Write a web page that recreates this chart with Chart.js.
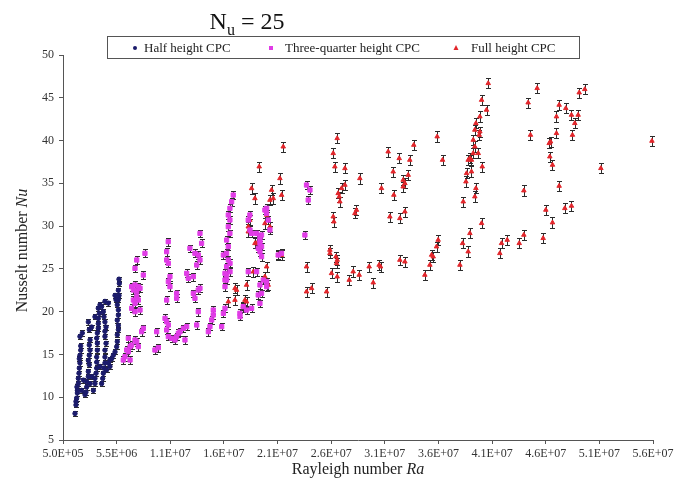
<!DOCTYPE html>
<html>
<head>
<meta charset="utf-8">
<script src="https://cdn.jsdelivr.net/npm/chart.js@4.4.1/dist/chart.umd.min.js"></script>
<style>
  html, body { margin: 0; padding: 0; background: #fff; }
  #wrap { width: 686px; height: 484px; }
</style>
</head>
<body>
<div id="wrap"><canvas id="chart"></canvas></div>
<script>
// Rayleigh numbers in millions, Nusselt numbers as read
const halfRa = [1.62, 1.71, 1.71, 1.77, 1.84, 1.84, 1.93, 1.93, 1.99, 2.02, 2.08, 2.02, 2.08, 2.15, 2.15, 2.30,
  2.55, 2.64, 2.71, 2.71, 2.86, 2.86, 2.95, 2.86, 2.95, 3.02, 2.95, 3.02, 2.95, 2.86,
  3.33, 3.48, 3.48, 3.58, 3.64, 3.64, 3.64, 3.70, 3.70, 3.64, 3.70, 3.79, 3.79, 3.79, 3.89, 3.79,
  4.10, 4.20, 4.26, 4.32, 4.41, 4.41, 4.41, 4.51, 4.41, 4.41, 4.51, 4.41, 4.32, 4.26, 4.10, 4.41,
  4.73, 4.88, 5.04, 5.19, 5.35, 5.50, 5.56, 5.56, 5.66, 5.66, 5.56, 5.66, 5.66, 5.56, 5.66, 5.72, 5.66, 5.75, 5.72, 5.35, 5.44,
  1.80, 2.24, 2.40, 3.02, 3.17, 3.95, 4.57, 4.88, 2.08, 3.17, 3.48, 3.95, 4.73];
const halfNu = [8.1, 9.1, 9.5, 9.9, 10.5, 10.8, 11.6, 12.2, 12.8, 13.4, 14.0, 14.5, 14.9, 15.5, 16.0, 17.5,
  10.3, 10.6, 11.2, 11.8, 12.4, 13.0, 13.8, 14.3, 14.9, 15.5, 16.1, 16.7, 17.9, 18.8,
  10.8, 11.6, 12.2, 12.8, 13.4, 14.1, 14.7, 15.5, 16.3, 16.9, 17.5, 18.05, 18.6, 19.2, 19.8, 20.4,
  11.6, 12.2, 12.8, 13.4, 14.0, 14.7, 15.5, 16.3, 17.1, 17.7, 18.2, 18.8, 19.4, 20.0, 20.6, 21.2,
  14.0, 14.4, 14.5, 14.9, 15.3, 15.9, 16.5, 17.3, 17.9, 18.4, 19.0, 19.6, 20.2, 20.8, 21.4, 21.9, 22.5, 23.3, 23.8, 21.9, 21.4,
  11.2, 10.8, 12.0, 11.6, 12.4, 13.6, 13.2, 13.6, 17.1, 18.2, 19.4, 20.8, 21.0];

const threeQuarterRa = [7.37, 8.14, 7.21, 7.99, 6.90, 7.21, 7.52, 7.68, 7.06, 7.37, 7.37, 7.06, 7.21, 7.52, 7.68, 6.90, 7.21,
  7.99, 7.83, 6.59, 7.21, 7.37, 6.90, 6.75, 6.43, 6.59, 6.28, 6.12, 6.75, 7.52, 9.23, 9.39, 9.07,
  10.01, 10.16, 10.32, 10.16, 10.32, 10.63, 11.09, 10.94, 11.25, 11.41, 11.72, 12.03, 11.87,
  10.16, 10.32, 10.47, 10.32, 10.47, 10.16, 11.09, 11.09, 12.03, 12.18, 12.65, 12.80, 12.65, 13.11, 13.27,
  12.96, 13.11, 13.27, 12.96, 13.11, 14.05, 14.20, 14.36, 14.51, 14.51, 15.29, 15.45, 15.60, 15.60, 15.76,
  15.45, 16.07, 16.07, 17.00, 10.31, 10.16, 12.33, 12.80, 13.27, 13.42,
  15.60, 15.75, 15.60, 15.75, 15.91, 15.75, 15.91, 15.75, 16.06, 15.91, 16.06, 15.91, 16.06, 16.22, 16.37,
  17.77, 17.93, 18.08, 18.55, 18.86, 18.86, 18.70, 17.77, 18.55, 18.86, 19.17, 19.48, 18.70, 18.86, 18.08, 17.61,
  19.48, 19.63, 23.20, 23.52, 23.36, 23.05, 19.32, 19.48, 19.79, 19.01, 18.86, 19.01, 18.86, 19.01, 17.92,
  20.56, 20.87, 19.48, 19.01, 17.30, 16.99];
const threeQuarterNu = [26.04, 26.82, 25.06, 24.28, 22.92, 23.12, 22.92, 22.73, 22.53, 22.34, 21.75, 21.36, 20.97, 21.36, 20.19, 20.39, 20.00,
  18.05, 17.66, 16.88, 16.69, 16.49, 16.10, 15.91, 15.52, 15.32, 14.74, 14.35, 14.35, 15.91, 17.66, 15.79, 15.52,
  19.22, 18.83, 18.44, 17.86, 17.08, 16.88, 17.08, 16.69, 17.47, 17.66, 18.05, 18.25, 16.69,
  26.04, 25.65, 24.09, 23.51, 22.92, 21.36, 22.14, 21.56, 24.48, 23.90, 24.09, 21.56, 22.14, 22.53, 22.73,
  25.45, 26.62, 26.04, 18.44, 20.00, 17.66, 18.25, 19.03, 19.61, 20.19, 18.25, 19.80, 20.39, 23.70, 24.28,
  26.62, 25.65, 24.67, 19.42, 28.18, 27.01, 27.40, 26.82, 29.15, 27.99,
  22.92, 23.70, 24.48, 25.26, 26.04, 26.82, 27.60, 28.37, 29.15, 29.93, 30.71, 31.30, 32.08, 32.85, 33.63,
  30.71, 29.54, 29.15, 29.15, 28.76, 27.99, 27.40, 24.67, 24.67, 23.12, 23.70, 22.92, 21.95, 20.97, 20.39, 20.19,
  32.08, 30.71, 34.80, 34.22, 33.05, 28.96, 31.88, 31.49, 29.55, 28.96, 28.38, 27.60, 27.01, 26.43, 31.30,
  26.62, 26.82, 23.51, 22.14, 20.59, 19.81];

const fullRa = [21.03, 18.79, 20.72, 18.08, 18.39, 19.94, 20.10, 19.79, 20.88, 19.48, 19.32, 19.79, 17.77, 18.55,
  20.57, 20.88, 19.48, 19.32, 19.63, 17.61, 17.61, 17.30, 16.53, 15.91, 23.20, 23.20, 23.67, 18.24,
  25.07, 25.38, 25.38, 25.94, 26.06, 26.00, 25.53, 26.06, 27.18, 27.55, 28.11, 29.04, 29.42, 29.97, 30.10,
  31.90, 32.37, 34.23, 34.70, 35.01, 35.32, 35.47, 34.86, 25.75, 25.69, 27.71, 27.86, 30.97, 31.90, 32.37,
  26.31, 26.25, 26.15, 26.47, 26.78, 25.84, 25.69, 26.06, 26.78, 28.17, 30.19, 31.34, 32.21, 32.37, 32.68,
  32.21, 31.28, 32.83, 31.84, 30.81, 33.20, 35.38, 35.88, 16.68, 16.53, 17.46, 17.92, 17.77, 18.39,
  40.14, 39.52, 39.98, 39.36, 38.99, 38.89, 39.36, 39.30, 38.74, 38.89, 38.74, 38.43, 38.27, 38.58, 39.21,
  38.12, 38.58, 38.06, 39.58, 38.99, 38.89, 37.81, 39.52, 37.75, 38.27, 38.43, 37.50,
  41.22, 41.38, 41.91, 43.03, 43.46, 45.26, 46.13, 45.51, 47.28, 47.90, 43.46, 46.75, 46.13, 45.88, 45.82,
  45.95, 46.50, 44.08, 47.99, 48.21, 48.52, 47.90, 47.37, 46.75, 46.50, 48.62, 49.14, 43.86, 44.70, 50.64, 55.40];
const fullNu = [39.28, 36.95, 35.58, 34.41, 33.24, 34.22, 33.24, 33.05, 33.63, 31.30, 30.32, 29.93, 29.93, 27.99,
  26.62, 26.62, 25.26, 24.09, 23.12, 23.12, 21.17, 20.58, 22.73, 21.17, 25.26, 22.34, 22.73, 24.67,
  22.34, 27.21, 26.82, 26.43, 26.04, 25.65, 24.48, 24.09, 23.70, 24.68, 24.29, 25.26, 23.39, 25.46, 25.26,
  26.04, 25.84, 24.29, 25.46, 26.43, 27.60, 28.38, 26.63, 30.52, 31.10, 31.49, 31.88, 31.10, 30.91, 31.69,
  32.86, 33.44, 33.83, 34.42, 34.81, 36.95, 38.51, 40.26, 36.75, 35.58, 34.42, 33.64, 35.39, 35.00, 35.97,
  34.61, 36.36, 37.73, 37.92, 38.70, 39.48, 40.46, 37.73, 22.53, 21.36, 21.36, 30.71, 29.35, 27.99,
  46.69, 44.74, 43.58, 42.80, 42.02, 41.24, 41.04, 40.65, 40.07, 39.29, 38.51, 37.93, 37.73, 37.73, 38.51,
  36.17, 36.37, 35.20, 36.95, 34.42, 33.45, 32.86, 30.33, 27.99, 27.02, 29.16, 25.46,
  26.82, 27.99, 28.38, 27.99, 28.97, 28.58, 30.41, 31.89, 32.08, 32.36, 34.15, 34.69, 37.15, 38.12, 39.68,
  39.87, 40.85, 40.65, 40.65, 42.02, 42.99, 42.99, 43.77, 44.16, 42.80, 45.60, 45.99, 44.43, 46.11, 36.76, 39.95];

// half-length of the error whiskers (Nu units)
const halfErr = 0.3;
const threeQuarterErr = 0.45;
const fullErr = 0.6;

const seriesNames = ['Half height CPC', 'Three-quarter height CPC', 'Full height CPC'];
const xTickValues = [5e5, 5.5e6, 1.05e7, 1.55e7, 2.05e7, 2.55e7, 3.05e7, 3.55e7, 4.05e7, 4.55e7, 5.05e7, 5.55e7];
const xTickLabels = ['5.0E+05', '5.5E+06', '1.1E+07', '1.6E+07', '2.1E+07', '2.6E+07', '3.1E+07',
  '3.6E+07', '4.1E+07', '4.6E+07', '5.1E+07', '5.6E+07'];
const yTickLabels = [5, 10, 15, 20, 25, 30, 35, 40, 45, 50];

const colors = { half: '#1b1b6b', threeQuarter: '#e03ce6', full: '#e2262b' };
const serif = '"Liberation Serif", "Times New Roman", serif';

const toPoints = (ra, nu) => ra.map((r, i) => ({ x: r * 1e6, y: nu[i] }));

// whiskers are drawn before the markers
const errorBars = {
  id: 'errorBars',
  beforeDatasetsDraw(chart) {
    const ctx = chart.ctx;
    const yScale = chart.scales.y;
    ctx.save();
    ctx.strokeStyle = '#2b2b2b';
    ctx.lineWidth = 1;
    chart.data.datasets.forEach((ds, i) => {
      const meta = chart.getDatasetMeta(i);
      meta.data.forEach((pt, j) => {
        const v = ds.data[j].y;
        const top = Math.round(yScale.getPixelForValue(v + ds.err)) + 0.5;
        const bot = Math.round(yScale.getPixelForValue(v - ds.err)) + 0.5;
        const x = Math.round(pt.x) + 0.5;
        ctx.beginPath();
        ctx.moveTo(x, top); ctx.lineTo(x, bot);
        ctx.moveTo(x - 2.5, top); ctx.lineTo(x + 2.5, top);
        ctx.moveTo(x - 2.5, bot); ctx.lineTo(x + 2.5, bot);
        ctx.stroke();
      });
    });
    ctx.restore();
  }
};

// title, boxed legend and axis titles (mixed italic / subscript text)
const decorations = {
  id: 'decorations',
  afterDraw(chart) {
    const ctx = chart.ctx;
    const area = chart.chartArea;
    ctx.save();
    ctx.fillStyle = '#111';
    ctx.textBaseline = 'alphabetic';

    // title N_u = 25
    const big = '24px ' + serif, small = '16px ' + serif;
    ctx.font = big;
    const wN = ctx.measureText('N').width, wRest = ctx.measureText(' = 25').width;
    ctx.font = small;
    const wu = ctx.measureText('u').width;
    let tx = 247 - (wN + wu + wRest) / 2;
    ctx.font = big; ctx.fillText('N', tx, 29); tx += wN;
    ctx.font = small; ctx.fillText('u', tx, 35); tx += wu;
    ctx.font = big; ctx.fillText(' = 25', tx, 29);

    // legend
    ctx.strokeStyle = '#555';
    ctx.lineWidth = 1;
    ctx.strokeRect(107.5, 36.5, 472, 22);
    ctx.font = '13px ' + serif;
    ctx.fillStyle = '#222';
    ctx.fillText(seriesNames[0], 144, 52);
    ctx.fillText(seriesNames[1], 285, 52);
    ctx.fillText(seriesNames[2], 471, 52);
    ctx.fillStyle = colors.half;
    ctx.beginPath(); ctx.arc(135, 48, 2, 0, Math.PI * 2); ctx.fill();
    ctx.fillStyle = colors.threeQuarter;
    ctx.fillRect(269, 46, 4, 4);
    ctx.fillStyle = colors.full;
    ctx.beginPath(); ctx.moveTo(456, 45); ctx.lineTo(458.5, 50); ctx.lineTo(453.5, 50); ctx.closePath(); ctx.fill();

    // x axis title
    ctx.fillStyle = '#222';
    const plain = '16px ' + serif, ital = 'italic 16px ' + serif;
    ctx.font = plain;
    const wa = ctx.measureText('Rayleigh number ').width;
    ctx.font = ital;
    const wb = ctx.measureText('Ra').width;
    let ax = (area.left + area.right) / 2 - (wa + wb) / 2;
    ctx.font = plain; ctx.fillText('Rayleigh number ', ax, 474);
    ctx.font = ital; ctx.fillText('Ra', ax + wa, 474);

    // y axis title
    ctx.translate(27, (area.top + area.bottom) / 2 + 3);
    ctx.rotate(-Math.PI / 2);
    ctx.font = plain;
    const wc = ctx.measureText('Nusselt number ').width;
    ctx.font = ital;
    const wd = ctx.measureText('Nu').width;
    const ay = -(wc + wd) / 2;
    ctx.font = plain; ctx.fillText('Nusselt number ', ay, 0);
    ctx.font = ital; ctx.fillText('Nu', ay + wc, 0);
    ctx.restore();
  }
};

const ctx = document.getElementById('chart').getContext('2d');
new Chart(ctx, {
  type: 'scatter',
  data: {
    datasets: [
      {
        label: seriesNames[0],
        data: toPoints(halfRa, halfNu),
        err: halfErr,
        pointStyle: 'circle',
        pointRadius: 2.2,
        backgroundColor: colors.half,
        borderColor: colors.half,
        borderWidth: 1,
      },
      {
        label: seriesNames[1],
        data: toPoints(threeQuarterRa, threeQuarterNu),
        err: threeQuarterErr,
        pointStyle: 'rect',
        pointRadius: 3,
        backgroundColor: colors.threeQuarter,
        borderColor: colors.threeQuarter,
        borderWidth: 1,
      },
      {
        label: seriesNames[2],
        data: toPoints(fullRa, fullNu),
        err: fullErr,
        pointStyle: 'triangle',
        pointRadius: 2.6,
        backgroundColor: colors.full,
        borderColor: colors.full,
        borderWidth: 1,
      },
    ],
  },
  options: {
    responsive: true,
    maintainAspectRatio: false,
    animation: false,
    devicePixelRatio: 1,
    clip: false,
    layout: { padding: { top: 55, right: 33, bottom: 0, left: 0 } },
    plugins: {
      legend: { display: false },
      title: { display: false },
      tooltip: { enabled: false },
    },
    scales: {
      x: {
        type: 'linear',
        min: xTickValues[0],
        max: xTickValues[xTickValues.length - 1],
        afterBuildTicks: (scale) => { scale.ticks = xTickValues.map(v => ({ value: v })); },
        afterFit: (scale) => { scale.height = 44; },
        grid: { drawOnChartArea: false, drawTicks: true, tickLength: 4, color: '#555' },
        border: { display: true, color: '#555', width: 1 },
        ticks: {
          autoSkip: false,
          maxRotation: 0,
          padding: 3,
          color: '#333',
          font: { family: serif, size: 12 },
          callback: (v, i) => xTickLabels[i],
        },
      },
      y: {
        type: 'linear',
        min: yTickLabels[0],
        max: yTickLabels[yTickLabels.length - 1],
        afterFit: (scale) => { scale.width = 63; },
        grid: { drawOnChartArea: false, drawTicks: true, tickLength: 4, color: '#555' },
        border: { display: true, color: '#555', width: 1 },
        ticks: {
          stepSize: 5,
          padding: 5,
          color: '#333',
          font: { family: serif, size: 12 },
        },
      },
    },
  },
  plugins: [errorBars, decorations],
});
</script>
</body>
</html>
